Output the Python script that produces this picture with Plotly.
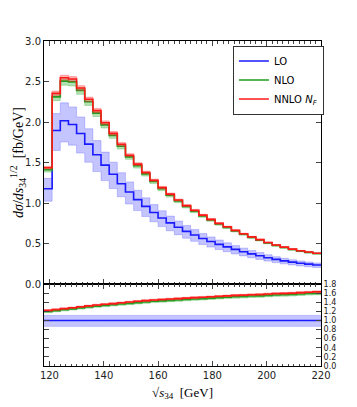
import plotly.graph_objects as go

# Bin edges of sqrt(s34) in GeV (3 GeV bins)
BIN_EDGES = list(range(118, 221, 3))

# d sigma / d s34^(1/2)  [fb/GeV]
LO = [1.175, 1.895, 2.015, 1.97, 1.858, 1.727, 1.595, 1.467, 1.355, 1.238,
      1.135, 1.042, 0.958, 0.883, 0.815, 0.755, 0.700, 0.650, 0.605, 0.561,
      0.524, 0.489, 0.458, 0.427, 0.399, 0.372, 0.349, 0.325, 0.304, 0.286,
      0.270, 0.256, 0.245, 0.234]
NLO = [1.41, 2.31, 2.505, 2.495, 2.39, 2.25, 2.11, 1.965, 1.835, 1.70,
       1.57, 1.46, 1.36, 1.265, 1.175, 1.095, 1.025, 0.957, 0.898, 0.84,
       0.79, 0.741, 0.698, 0.655, 0.614, 0.576, 0.542, 0.507, 0.477, 0.45,
       0.426, 0.406, 0.391, 0.376]
NNLO = [1.436, 2.354, 2.547, 2.53, 2.42, 2.28, 2.14, 1.99, 1.86, 1.725,
        1.59, 1.48, 1.377, 1.28, 1.19, 1.11, 1.037, 0.968, 0.91, 0.85,
        0.798, 0.749, 0.706, 0.662, 0.62, 0.582, 0.548, 0.512, 0.482, 0.455,
        0.43, 0.41, 0.395, 0.38]

# ratio to LO (lower panel)
R_NLO = [1.195, 1.215, 1.235, 1.255, 1.275, 1.295, 1.315, 1.33, 1.345, 1.36,
         1.375, 1.39, 1.405, 1.42, 1.43, 1.44, 1.45, 1.46, 1.47, 1.48,
         1.49, 1.50, 1.51, 1.52, 1.525, 1.535, 1.54, 1.55, 1.56, 1.565,
         1.57, 1.58, 1.59, 1.595]
R_NNLO = [1.22, 1.24, 1.26, 1.28, 1.30, 1.32, 1.34, 1.355, 1.37, 1.39,
          1.405, 1.42, 1.435, 1.45, 1.46, 1.47, 1.48, 1.49, 1.50, 1.51,
          1.52, 1.53, 1.54, 1.55, 1.555, 1.565, 1.57, 1.58, 1.59, 1.595,
          1.60, 1.61, 1.62, 1.63]
R_LO = [1.0] * len(LO)

# relative scale-variation bands (down, up)
BAND_LO = (0.87, 1.11)
BAND_NLO = (0.98, 1.012)
BAND_NNLO = (0.988, 1.012)

BLUE = "#1a1aff"
GREEN = "#1e9e1e"
RED = "#ff1a1a"
FILLS = {BLUE: "rgba(60,60,255,0.30)", GREEN: "rgba(40,170,40,0.35)", RED: "rgba(255,40,40,0.35)"}
EDGE = {BLUE: "rgba(60,60,255,0.25)", GREEN: "rgba(40,170,40,0.3)", RED: "rgba(255,40,40,0.3)"}

SERIF = "Liberation Serif"
SANS = "DejaVu Sans"


def steps(vals):
    return list(vals) + [vals[-1]]


def add_series(fig, vals, band, color, name, xa, ya, legend):
    lo = [v * band[0] for v in vals]
    hi = [v * band[1] for v in vals]
    fig.add_trace(go.Scatter(x=BIN_EDGES, y=steps(lo), mode="lines", line_shape="hv",
                             line=dict(color=EDGE[color], width=1), xaxis=xa, yaxis=ya,
                             showlegend=False, hoverinfo="skip"))
    fig.add_trace(go.Scatter(x=BIN_EDGES, y=steps(hi), mode="lines", line_shape="hv",
                             line=dict(color=EDGE[color], width=1), fill="tonexty",
                             fillcolor=FILLS[color], xaxis=xa, yaxis=ya,
                             showlegend=False, hoverinfo="skip"))
    fig.add_trace(go.Scatter(x=BIN_EDGES, y=steps(vals), mode="lines", line_shape="hv",
                             line=dict(color=color, width=1.6), xaxis=xa, yaxis=ya,
                             name=name, showlegend=legend))


fig = go.Figure()
add_series(fig, LO, BAND_LO, BLUE, "LO", "x", "y", True)
add_series(fig, NLO, BAND_NLO, GREEN, "NLO", "x", "y", True)
add_series(fig, NNLO, BAND_NNLO, RED, "NNLO <i>N<sub>F</sub></i>", "x", "y", True)
add_series(fig, R_LO, BAND_LO, BLUE, "LO", "x2", "y2", False)
add_series(fig, R_NLO, BAND_NLO, GREEN, "NLO", "x2", "y2", False)
add_series(fig, R_NNLO, BAND_NNLO, RED, "NNLO", "x2", "y2", False)

split = 82 / 325
axis_common = dict(
    showline=True, linecolor="black", linewidth=1, mirror="allticks",
    ticks="inside", tickcolor="#444", ticklen=5, showgrid=False, zeroline=False,
    automargin=False,
)
tick_font = dict(family=SANS, size=10, color="#222")
minor = dict(dtick=2, ticks="inside", ticklen=2.5, tickcolor="#444")

# page body adds an 8px offset, margins compensate for it
fig.update_layout(
    width=357, height=407,
    margin=dict(l=36, r=44, t=33, b=49),
    paper_bgcolor="white", plot_bgcolor="white",
    xaxis=dict(domain=[0, 1], range=[118, 220], anchor="y", showticklabels=False,
               tick0=120, dtick=20, minor=minor, **axis_common),
    yaxis=dict(domain=[split, 1], range=[0, 3], anchor="x", dtick=0.5, tickformat=".1f",
               tickfont=tick_font,
               title=dict(text="<i>dσ</i>/<i>ds</i><sub>34</sub><sup>1/2</sup>  [fb/GeV]",
                          font=dict(family=SERIF, size=14, color="black"), standoff=11),
               **axis_common),
    xaxis2=dict(domain=[0, 1], range=[118, 220], anchor="y2", matches="x",
                tick0=120, dtick=20, minor=minor, tickfont=tick_font,
                title=dict(text="√<i>s</i><sub>34</sub>  [GeV]",
                           font=dict(family=SERIF, size=13, color="black"), standoff=7),
                **axis_common),
    yaxis2=dict(domain=[0, split], range=[0, 1.8], anchor="x2", side="right", dtick=0.2,
                tickformat=".1f", tickfont=dict(family=SANS, size=8, color="#222"),
                **axis_common),
    legend=dict(x=0.682, y=0.986, xanchor="left", yanchor="top", bgcolor="white",
                bordercolor="#333", borderwidth=1, font=dict(family=SANS, size=10, color="black"),
                traceorder="normal", tracegroupgap=0, itemwidth=30),
)

fig.write_html("out.html")
